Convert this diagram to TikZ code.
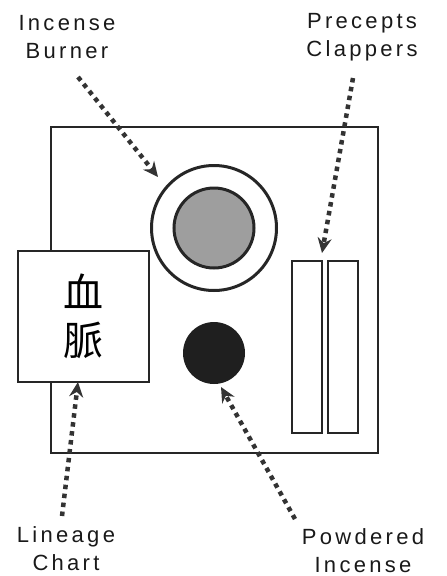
\documentclass[tikz,border=0pt]{standalone}
\usepackage{fontspec}
\setmainfont{Liberation Sans}[LetterSpace=15]
\newfontfamily\cjkfont{Noto Sans CJK TC}
\usetikzlibrary{arrows.meta}

\tikzset{
  outline/.style={draw=black!85, line width=2pt},
  callout/.style={font=\fontsize{22}{28}\selectfont, align=center, text=black!90, inner sep=1pt},
  pointer/.style={draw=black!80, line width=4.5pt, dash pattern=on 4.5pt off 4.5pt,
    -{Stealth[length=15pt, width=14pt, inset=5pt]}}
}

\begin{document}
\begin{tikzpicture}[x=1pt, y=-1pt]
\useasboundingbox (0,0) rectangle (447,576);

% Altar table
\draw[outline] (51,127) rectangle (378,453);

% Lineage chart
\node[outline, fill=white, minimum width=131pt, minimum height=131pt, inner sep=0pt]
  (chart) at (83,316) {};
\node[font=\cjkfont\fontsize{40}{48}\selectfont, align=center] (chartchars) at (chart.center) {血\\脈};

% Incense burner
\node[circle, draw=black!85, line width=3pt, minimum size=125pt] (burner) at (214,228) {};
\node[circle, draw=black!85, line width=3pt, fill=black!38, minimum size=80pt] (bowl) at (214,228) {};

% Powdered incense
\node[circle, fill=black!88, minimum size=62pt] (powder) at (214,353) {};

% Precepts clappers
\draw[outline] (292,261) rectangle (322,433);
\draw[outline] (328,261) rectangle (358,433);

% Labels
\node[callout] (burnerlbl) at (67,37) {Incense\\Burner};
\node[callout] (clapperlbl) at (362,37) {Precepts\\Clappers};
\node[callout] (chartlbl) at (66,549) {Lineage\\Chart};
\node[callout] (powderlbl) at (363,551) {Powdered\\Incense};

% Pointer ends
\coordinate (burnerfrom) at (78,77);
\coordinate (burnerto) at (158,177);
\coordinate (clapperfrom) at (353,78);
\coordinate (clapperto) at (322,253);
\coordinate (chartfrom) at (62,516);
\coordinate (chartto) at (78,382);
\coordinate (powderfrom) at (295,519);
\coordinate (powderto) at (221,387);

\draw[pointer] (burnerfrom) -- (burnerto);
\draw[pointer] (clapperfrom) -- (clapperto);
\draw[pointer] (chartfrom) -- (chartto);
\draw[pointer] (powderfrom) -- (powderto);

\end{tikzpicture}
\end{document}
